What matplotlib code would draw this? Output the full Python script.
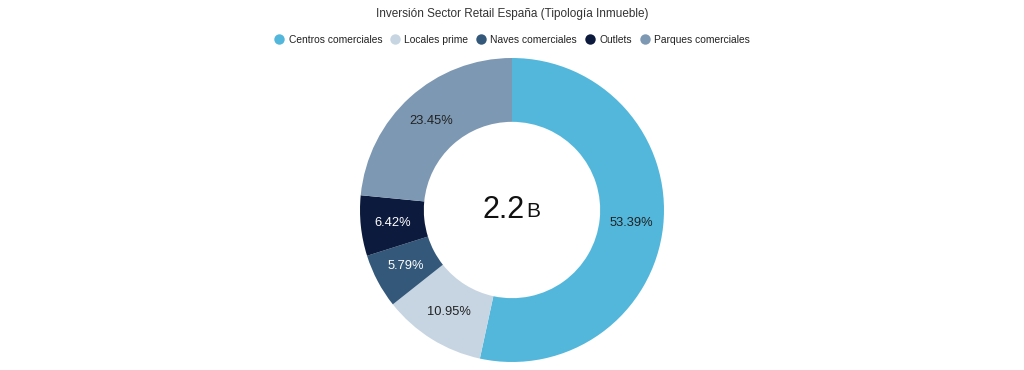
import matplotlib
matplotlib.use("Agg")
import matplotlib.pyplot as plt
from matplotlib.lines import Line2D

plt.rcParams['font.family'] = ['Liberation Sans', 'DejaVu Sans']

categories = ["Centros comerciales", "Locales prime", "Naves comerciales", "Outlets", "Parques comerciales"]
values = [53.39, 10.95, 5.79, 6.42, 23.45]
colors = ["#53b7db", "#c7d5e2", "#33587a", "#0c1a3d", "#7d98b3"]
text_colors = ["#222222", "#222222", "#ffffff", "#ffffff", "#222222"]
title = "Inversión Sector Retail España (Tipología Inmueble)"
center_value = "2.2"
center_unit = "B"

W, H = 1024, 370
fig = plt.figure(figsize=(W / 100, H / 100), dpi=100)
cx, cy, R = 512, 210, 152
ax = fig.add_axes([(cx - R) / W, (H - cy - R) / H, 2 * R / W, 2 * R / H])

wedges, texts, autotexts = ax.pie(values, colors=colors, startangle=90, counterclock=False,
                                  radius=1.0, wedgeprops=dict(width=0.42, edgecolor='none'),
                                  autopct='%1.2f%%', pctdistance=0.79,
                                  textprops=dict(fontsize=9.3))
for t, c in zip(autotexts, text_colors):
    t.set_color(c)
ax.set_xlim(-1, 1)
ax.set_ylim(-1, 1)
ax.set_aspect('equal')
ax.axis('off')

ax.text(0.085, 0.0, center_value, ha='right', va='center', fontsize=22, color='#111111')
ax.text(0.095, -0.01, center_unit, ha='left', va='center', fontsize=15, color='#111111')

fig.text(0.5, 1 - 14 / H, title, ha='center', va='center', fontsize=8.5, color='#333333')

handles = [Line2D([0], [0], marker='o', linestyle='none', markersize=7.5,
                  markerfacecolor=c, markeredgecolor='none') for c in colors]
fig.legend(handles, categories, loc='center', bbox_to_anchor=(0.5, 1 - 40 / H), ncol=5,
           frameon=False, fontsize=7.4, handletextpad=0.4, columnspacing=0.75,
           handlelength=1.0, labelcolor='#222222')

fig.savefig("out.png", dpi=100, facecolor='white')
